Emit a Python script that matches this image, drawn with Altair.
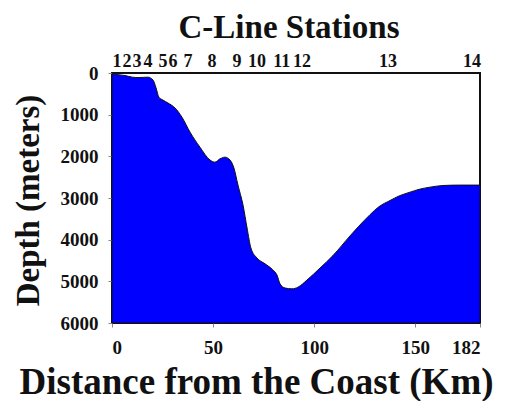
import altair as alt
import pandas as pd

# Bathymetric profile along the C-Line (distance from coast in km, depth in m)
distance_km = [0, 3, 6.4, 10, 12.9, 17.8, 20.3, 21.8, 23.2, 25.2, 27.7, 31.2, 34.6,
               38.6, 43.5, 48.5, 50.9, 53.4, 55.9, 58.4, 60.3, 62.3, 64.8, 66.8,
               68.7, 71.7, 75.7, 79.6, 81.6, 83.1, 85.6, 89.0, 92.0, 96.4, 102.9,
               109.3, 117.7, 122, 127.6, 132, 137.5, 142, 147.4, 152, 157.3,
               163.7, 172, 182]
depth_m = [20, 40, 60, 100, 110, 100, 170, 360, 580, 650, 720, 840, 1060,
           1420, 1780, 2090, 2140, 2060, 2020, 2090, 2280, 2690, 3170, 3720,
           4200, 4440, 4580, 4730, 4850, 5060, 5160, 5180, 5140, 4970, 4680,
           4380, 3910, 3680, 3400, 3210, 3060, 2950, 2860, 2790, 2740,
           2700, 2690, 2690]

# Station labels along the top
station_names = ["1", "2", "3", "4", "5", "6", "7", "8", "9", "10", "11", "12", "13", "14"]
station_km = [2.5, 7.4, 12.4, 17.8, 25.2, 30.2, 37.6, 49.5, 61.8, 71.7, 84, 94, 136.5, 178]

x_ticks = [0, 50, 100, 150, 182]
y_ticks = [0, 1000, 2000, 3000, 4000, 5000, 6000]
bottom_depth = 6000

profile = pd.DataFrame({"d": distance_km, "depth": depth_m,
                        "bottom": [bottom_depth] * len(distance_km)})
stations = pd.DataFrame({"name": station_names, "d": station_km})
title_df = pd.DataFrame({"t": ["C-Line Stations"]})

FONT = "Liberation Serif"

xscale = alt.Scale(domain=[0, 182], nice=False, zero=False)
yscale = alt.Scale(domain=[0, 6000], reverse=True, nice=False)

area = alt.Chart(profile).mark_area(
    color="#0000FF", stroke="#111111", strokeWidth=1, opacity=1,
    interpolate="monotone"
).encode(
    x=alt.X("d:Q", scale=xscale,
            axis=alt.Axis(values=x_ticks, title="Distance from the Coast (Km)",
                          titleX=144, titleY=70, titleAlign="center",
                          titleBaseline="alphabetic", titleFontSize=37,
                          labelPadding=11)),
    y=alt.Y("depth:Q", scale=yscale,
            axis=alt.Axis(values=y_ticks, format="d", title="Depth (meters)",
                          titleX=-84, titleY=127, titleAngle=270,
                          titleAlign="center", titleBaseline="middle",
                          titleFontSize=33, labelPadding=10)),
    y2="bottom:Q",
)

station_text = alt.Chart(stations).mark_text(
    font=FONT, fontWeight="bold", fontSize=18, baseline="alphabetic",
    align="center", color="#111111"
).encode(
    x=alt.X("d:Q", scale=xscale),
    y=alt.value(-6),
    text="name:N",
)

title_text = alt.Chart(title_df).mark_text(
    font=FONT, fontWeight="bold", fontSize=33, baseline="alphabetic",
    align="center", color="#111111"
).encode(
    x=alt.value(177),
    y=alt.value(-35),
    text="t:N",
)

chart = alt.layer(area, station_text, title_text).properties(
    width=368, height=250,
    autosize=alt.AutoSizeParams(type="none"),
    padding={"left": 104, "top": 65, "right": 23, "bottom": 80},
).configure_view(
    stroke="#111111", strokeWidth=2
).configure_axis(
    grid=False, domain=False,
    labelFont=FONT, labelFontWeight="bold", labelFontSize=19, labelColor="#111111",
    titleFont=FONT, titleFontWeight="bold", titleColor="#111111",
    tickColor="#888888", tickSize=4, tickWidth=1,
)

chart.save("out.html", embed_options={"renderer": "svg", "actions": False})
